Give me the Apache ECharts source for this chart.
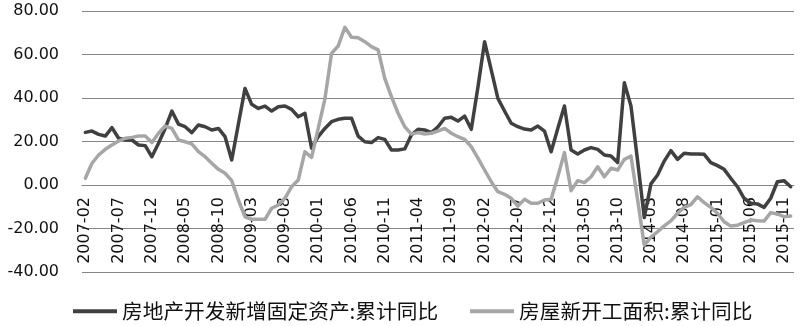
<!DOCTYPE html>
<html>
<head>
<meta charset="utf-8">
<style>
  html, body { margin: 0; padding: 0; background: #fff; }
  #chart { width: 807px; height: 326px; }
</style>
<script src="https://cdn.jsdelivr.net/npm/echarts@6/dist/echarts.min.js"></script>
</head>
<body>
<div id="chart"></div>
<script>
// Monthly categories, 2007-02 through 2015-12
const categories = [];
for (let y = 2007, m = 2; y < 2016; ) {
  categories.push(y + '-' + String(m).padStart(2, '0'));
  m++;
  if (m > 12) { m = 1; y++; }
}

const seriesNames = ['房地产开发新增固定资产:累计同比', '房屋新开工面积:累计同比'];

// 房地产开发新增固定资产:累计同比 (%)
const investYoY = [
  24.2, 24.8, 23.3, 22.5, 26.4, 21.5, 20.7, 20.7, 18.4, 18.1,
  13.0, 19.2, 26.0, 34.0, 28.0, 26.8, 24.1, 27.6, 26.8, 25.3,
  26.0, 22.2, 11.5, 28.0, 44.4, 37.1, 35.2, 36.3, 34.0, 36.0,
  36.3, 34.8, 31.4, 33.0, 16.9, 22.2, 26.0, 29.1, 30.2, 30.7,
  30.7, 22.5, 19.9, 19.5, 21.8, 21.0, 16.1, 16.1, 16.6, 23.0,
  25.6, 25.3, 24.1, 26.8, 30.7, 31.1, 29.4, 31.7, 25.6, 45.0,
  65.9, 52.9, 39.8, 34.0, 28.4, 26.8, 25.7, 25.3, 27.1, 24.8,
  15.3, 26.0, 36.3, 16.1, 14.3, 16.1, 17.2, 16.4, 13.8, 13.3,
  10.3, 47.0, 36.3, 11.0, -15.0, 0.5, 4.6, 11.0, 15.8, 11.8,
  14.6, 14.3, 14.3, 14.1, 10.3, 8.9, 7.2, 3.1, -0.8, -6.1,
  -8.4, -8.7, -10.3, -6.1, 1.5, 2.0, -0.8
];

// 房屋新开工面积:累计同比 (%)
const startsYoY = [
  3.1, 10.0, 13.8, 16.4, 18.4, 20.2, 21.5, 21.9, 22.5, 22.5,
  19.5, 23.8, 27.1, 26.0, 20.7, 19.9, 18.9, 15.3, 13.0, 10.0,
  7.2, 5.4, 2.0, -6.9, -14.6, -15.8, -15.8, -15.8, -10.7, -9.2,
  -6.1, -0.8, 2.3, 15.3, 12.7, 26.0, 39.5, 60.5, 63.9, 72.5,
  67.9, 67.7, 65.9, 63.6, 62.1, 49.0, 40.6, 33.0, 26.8, 23.4,
  24.1, 23.4, 23.8, 24.8, 26.0, 23.8, 22.2, 21.0, 17.6, 12.3,
  6.9, 1.5, -3.1, -4.3, -6.1, -9.7, -6.6, -8.4, -8.4, -6.9,
  -6.6, 3.8, 14.9, -2.6, 2.0, 1.1, 3.8, 8.4, 3.8, 7.7,
  6.9, 11.8, 13.3, -6.9, -27.6, -24.0, -21.5, -18.8, -16.5, -13.0,
  -10.3, -9.0, -5.4, -8.1, -10.3, -13.0, -16.9, -18.9, -18.5, -17.3,
  -16.1, -16.4, -16.6, -12.7, -13.3, -14.6, -14.3
];

// Value axis range
const yMin = -40, yMax = 80, yStep = 20;

const gridColor = '#868686';
const numFont = 'DejaVu Sans';
const cjkFont = '"Noto Sans CJK SC", sans-serif';

// Plot box inside the 807x326 canvas
const gridBox = { left: 82, right: 13, top: 11, bottom: 54 };
const plotHeight = 326 - gridBox.top - gridBox.bottom;
// The category axis sits on the zero line of the value axis
const zeroLift = plotHeight * (0 - yMin) / (yMax - yMin);

const chart = echarts.init(document.getElementById('chart'), null, { renderer: 'canvas' });

chart.setOption({
  animation: false,
  backgroundColor: '#ffffff',
  grid: Object.assign({ containLabel: false, outerBoundsMode: 'none' }, gridBox),
  legend: {
    data: seriesNames,
    left: 68,
    top: 296,
    itemWidth: 44,
    itemHeight: 4,
    itemGap: 32,
    icon: 'rect',
    textStyle: { fontFamily: cjkFont, fontSize: 20.7, color: '#111' }
  },
  xAxis: {
    type: 'category',
    data: categories,
    boundaryGap: true,
    offset: -zeroLift,
    z: 0,
    axisLine: { show: true, onZero: false, lineStyle: { color: gridColor, width: 1 } },
    axisTick: { show: false },
    axisLabel: {
      interval: 4,
      rotate: 90,
      margin: 12,
      fontFamily: numFont,
      fontSize: 16,
      color: '#111'
    },
    splitLine: { show: false }
  },
  yAxis: {
    type: 'value',
    min: yMin,
    max: yMax,
    interval: yStep,
    axisLine: { show: false },
    axisTick: { show: false },
    axisLabel: {
      margin: 23,
      fontFamily: numFont,
      fontSize: 16,
      color: '#111',
      formatter: v => v.toFixed(2)
    },
    splitLine: { show: true, lineStyle: { color: gridColor, width: 1 } }
  },
  series: [
    {
      name: seriesNames[0],
      type: 'line',
      z: 3,
      data: investYoY,
      showSymbol: false,
      symbol: 'none',
      itemStyle: { color: '#404040' },
      lineStyle: { color: '#404040', width: 3.5, join: 'round', cap: 'round' }
    },
    {
      name: seriesNames[1],
      type: 'line',
      z: 3,
      data: startsYoY,
      showSymbol: false,
      symbol: 'none',
      itemStyle: { color: '#a6a6a6' },
      lineStyle: { color: '#a6a6a6', width: 3.5, join: 'round', cap: 'round' }
    }
  ]
});
</script>
</body>
</html>
